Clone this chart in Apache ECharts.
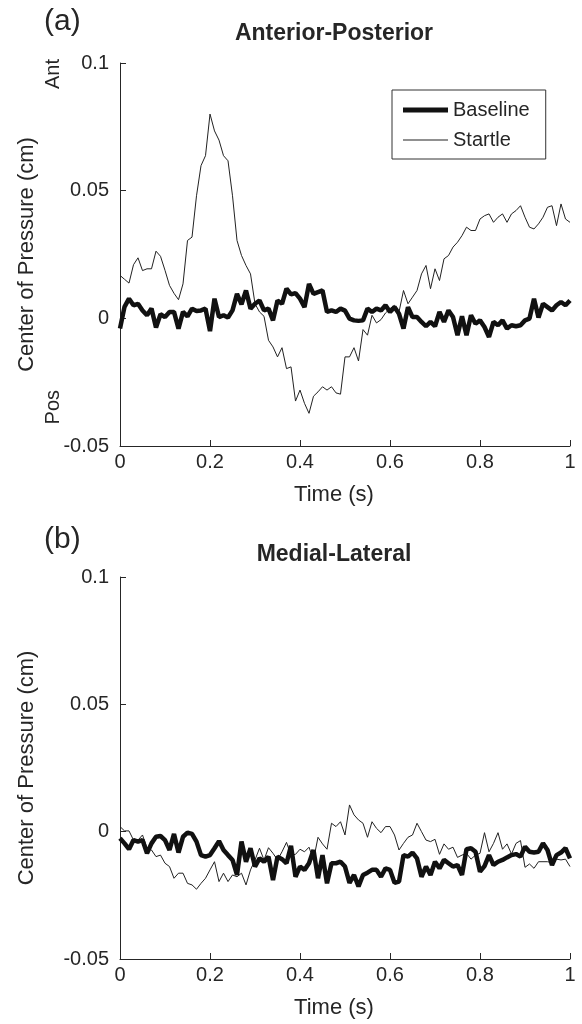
<!DOCTYPE html>
<html><head><meta charset="utf-8">
<script src="https://cdn.jsdelivr.net/npm/echarts@6/dist/echarts.min.js"></script>
<style>html,body{margin:0;padding:0;background:#fff}#c{width:582px;height:1024px}</style>
</head><body><div id="c"></div>
<script>
var xTicks = [0, 0.2, 0.4, 0.6, 0.8, 1];
var yTicks = [-0.05, 0, 0.05, 0.1];
var apBaseline = [
-0.004,0.0045,0.0077,0.0051,0.0057,0.0031,0.0012,0.0038,-0.0036,0.0016,
0.0005,0.0025,0.0025,-0.004,0.0025,0.0008,0.0038,0.0029,0.0031,0.0038,
-0.005,0.0077,0.0005,0.0012,0.0003,0.0031,0.0096,0.0055,0.0109,0.0038,
0.0057,0.007,0.0031,0.0038,-0.0008,0.007,0.0057,0.0116,0.0094,0.0099,
0.0077,0.0044,0.0135,0.0096,0.0103,0.0109,0.0025,0.0031,0.0025,0.0038,
0.003,
-0.0001,-0.0008,-0.001,-0.0008,0.0038,0.0025,0.0038,0.0031,0.0051,0.0025,
0.0044,0.0018,-0.004,0.0044,0.0005,0.0005,-0.0014,-0.0031,-0.0014,-0.0031,
0.0025,-0.0014,0.0031,0.0005,-0.0066,0.0008,-0.0066,0.0012,-0.0021,-0.0008,
-0.0034,-0.0073,-0.0014,-0.0027,-0.0008,-0.004,-0.0027,-0.0031,-0.0027,-0.0008,
-0.0001,0.0077,0.0003,0.0057,0.0044,0.0031,0.0051,0.0064,0.0051,0.007
];
var apStartle = [
0.0168,0.0153,0.0138,0.021,0.0237,0.0187,0.0194,0.0194,0.0263,0.0243,
0.0188,0.0129,0.0098,0.0073,0.0135,0.0305,0.0318,0.048,0.0598,0.0637,
0.080,0.0734,0.0698,0.0637,0.0617,0.048,0.0305,0.0246,0.0207,0.0174,
0.0057,0.0025,0.0008,-0.0086,-0.0112,-0.0151,-0.0115,-0.0197,-0.019,-0.0324,
-0.0281,-0.0333,-0.0372,-0.0305,-0.0288,-0.0268,-0.0281,-0.0268,-0.0292,-0.0297,
-0.0151,-0.0151,-0.0115,-0.0167,-0.0044,-0.0066,0.0012,-0.0018,-0.0005,0.0021,
0.0038,0.0051,0.0025,0.0109,0.0057,0.0083,0.0109,0.0174,0.0207,0.0116,
0.0194,0.0148,0.0233,0.0246,0.0279,0.0298,0.0324,0.0357,0.0344,0.0344,
0.0389,0.0402,0.0409,0.0376,0.0396,0.0409,0.0376,0.0409,0.0422,0.0441,
0.0396,0.0357,0.035,0.037,0.0396,0.0435,0.0441,0.0363,0.0448,0.0389,
0.0376
];
var mlBaseline = [
-0.0026,-0.0046,-0.0069,-0.0033,-0.0039,-0.0033,-0.0085,-0.0046,-0.002,-0.0017,
-0.0033,-0.0072,-0.0009,-0.0082,-0.002,-0.0004,-0.0009,-0.0039,-0.0092,-0.0098,
-0.0092,-0.0065,-0.0037,-0.0072,-0.0092,-0.0111,-0.017,-0.0039,-0.0118,-0.0065,
-0.0137,-0.0105,-0.0118,-0.0098,-0.019,-0.0098,-0.0108,-0.0124,-0.0056,-0.0177,
-0.0137,-0.015,-0.0124,-0.0072,-0.0183,-0.0092,-0.0203,-0.0124,-0.0124,-0.0118,
-0.0137,-0.0201,
-0.017,-0.0215,-0.017,-0.0161,-0.015,-0.015,-0.0177,-0.0144,-0.015,-0.0201,
-0.0196,-0.0092,-0.0098,-0.0082,-0.0105,-0.0177,-0.0137,-0.017,-0.0118,-0.0144,
-0.0111,-0.0124,-0.0137,-0.0131,-0.017,-0.0069,-0.0065,-0.0079,-0.0157,-0.0135,
-0.0092,-0.0131,-0.0118,-0.0111,-0.0101,-0.0092,-0.0088,-0.0098,-0.0059,-0.0079,
-0.0082,-0.0079,-0.0046,-0.0072,-0.0131,-0.0092,-0.0082,-0.0065,-0.0105
];
var mlStartle = [
0.0020,0.0003,0.0003,-0.0033,-0.0033,-0.0013,-0.0065,-0.0072,-0.0098,-0.0092,
-0.0124,-0.0137,-0.0183,-0.0163,-0.0163,-0.0203,-0.0209,-0.0226,-0.0203,-0.0183,
-0.015,-0.0118,-0.0196,-0.0163,-0.0196,-0.017,-0.0177,-0.0163,-0.0209,-0.015,
-0.0111,-0.0065,-0.0111,-0.0063,-0.0085,-0.0111,-0.0079,-0.0042,-0.0092,-0.0089,
-0.0069,-0.0079,-0.0061,-0.0111,-0.0022,-0.0048,-0.0069,0.0033,0.0020,0.0039,
-0.0013,0.0105,
0.0066,0.0046,0.0033,-0.0022,0.0039,0.0013,-0.0004,0.002,0.002,-0.0013,
-0.0072,-0.0046,-0.0022,-0.0013,0.0033,0,-0.0033,-0.0039,-0.003,-0.0089,
-0.0048,-0.0069,-0.0061,-0.0101,-0.0092,-0.0085,-0.0108,-0.0092,-0.0085,-0.0004,
-0.0079,-0.0046,-0.0004,-0.0069,-0.0048,-0.0088,-0.0046,-0.0035,-0.014,-0.0127,
-0.0144,-0.0118,-0.0118,-0.0118,-0.0122,-0.0108,-0.0111,-0.0108,-0.0137
];
var sampleStep = 0.01;

function pairs(arr){ return arr.map(function(v,i){ return [+(i*sampleStep).toFixed(2), v]; }); }
var FONT = 'Liberation Sans, Arial, sans-serif';
var TXT = '#262626';
function xAx(gi){
  return {gridIndex:gi,type:'value',min:xTicks[0],max:xTicks[xTicks.length-1],interval:0.2,
    name:'Time (s)',nameLocation:'middle',nameGap:38,
    nameTextStyle:{fontSize:22,color:TXT,fontFamily:FONT,padding:[0,22,0,0]},
    axisLine:{onZero:false,lineStyle:{color:TXT,width:1}},
    axisTick:{inside:true,length:6,lineStyle:{color:TXT}},
    axisLabel:{fontSize:20,color:TXT,fontFamily:FONT,margin:6},
    splitLine:{show:false}};
}
function yAx(gi){
  return {gridIndex:gi,type:'value',min:yTicks[0],max:yTicks[yTicks.length-1],interval:0.05,
    name:'Center of Pressure (cm)',nameLocation:'middle',nameGap:82,nameRotate:90,
    nameTextStyle:{fontSize:22,color:TXT,fontFamily:FONT},
    axisLine:{show:true,onZero:false,lineStyle:{color:TXT,width:1}},
    axisTick:{show:true,inside:true,length:6,lineStyle:{color:TXT}},
    axisLabel:{fontSize:20,color:TXT,fontFamily:FONT,margin:11},
    splitLine:{show:false}};
}
var chart = echarts.init(document.getElementById('c'), null, {renderer:'canvas'});
chart.setOption({
  backgroundColor:'#fff',
  animation:false,
  title:[
    {text:'(a)',left:44,top:7,padding:0,textStyle:{fontSize:30,fontWeight:'normal',color:TXT,fontFamily:FONT}},
    {text:'Anterior-Posterior',left:334,top:22,padding:0,textAlign:'center',textStyle:{fontSize:23,fontWeight:'bold',color:TXT,fontFamily:FONT}},
    {text:'(b)',left:44,top:525,padding:0,textStyle:{fontSize:30,fontWeight:'normal',color:TXT,fontFamily:FONT}},
    {text:'Medial-Lateral',left:334,top:543,padding:0,textAlign:'center',textStyle:{fontSize:23,fontWeight:'bold',color:TXT,fontFamily:FONT}}
  ],
  graphic:[
    {type:'text',left:43,top:59,rotation:Math.PI/2,style:{text:'Ant',fontSize:20,fill:TXT,fontFamily:FONT}},
    {type:'text',left:43,top:390,rotation:Math.PI/2,style:{text:'Pos',fontSize:20,fill:TXT,fontFamily:FONT}}
  ],
  legend:{
    left:392,top:90,orient:'vertical',
    padding:[10,16,9,11],itemGap:10,itemWidth:45,itemHeight:14,
    symbolKeepAspect:false,
    borderColor:'#333',borderWidth:1,
    itemStyle:{borderWidth:0},
    data:[
      {name:'Baseline',icon:'path://M0,0L0,0M0,4.5H45V9.5H0ZM45,14L45,14'},
      {name:'Startle',icon:'path://M0,0L0,0M0,6.5H45V7.5H0ZM45,14L45,14'}
    ],
    textStyle:{fontSize:20,color:TXT,fontFamily:FONT}
  },
  grid:[
    {left:120,top:63,width:450,height:383},
    {left:120,top:577,width:450,height:382}
  ],
  xAxis:[xAx(0),xAx(1)],
  yAxis:[yAx(0),yAx(1)],
  series:[
    {name:'Baseline',type:'line',xAxisIndex:0,yAxisIndex:0,data:pairs(apBaseline),symbol:'none',lineStyle:{color:'#111',width:4.5},itemStyle:{color:'#111'},z:3},
    {name:'Startle',type:'line',xAxisIndex:0,yAxisIndex:0,data:pairs(apStartle),symbol:'none',lineStyle:{color:'#222',width:1},itemStyle:{color:'#222'},z:2},
    {name:'Baseline',type:'line',xAxisIndex:1,yAxisIndex:1,data:pairs(mlBaseline),symbol:'none',lineStyle:{color:'#111',width:4.5},itemStyle:{color:'#111'},z:3},
    {name:'Startle',type:'line',xAxisIndex:1,yAxisIndex:1,data:pairs(mlStartle),symbol:'none',lineStyle:{color:'#222',width:1},itemStyle:{color:'#222'},z:2}
  ]
});
</script></body></html>
